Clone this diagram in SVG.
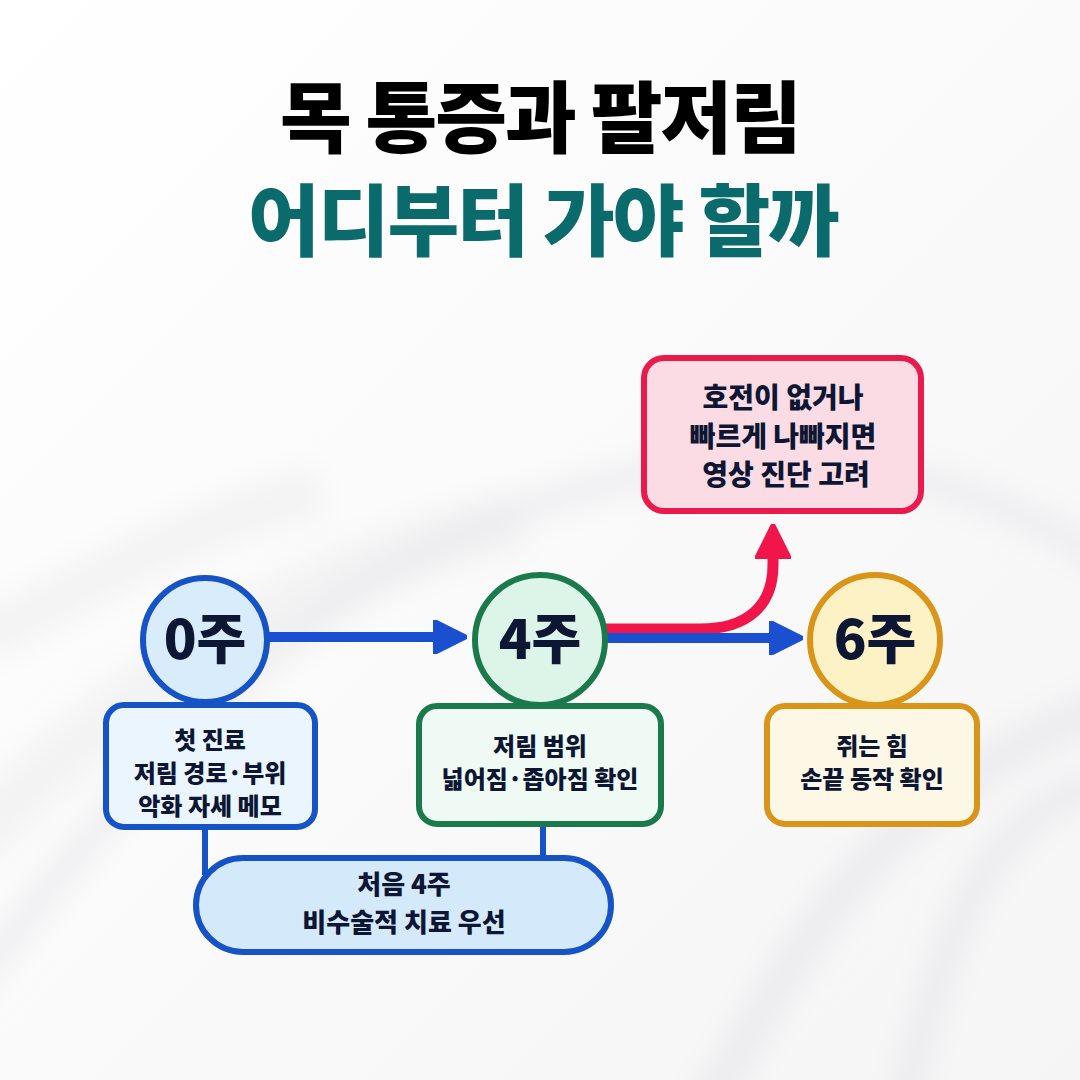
<svg xmlns="http://www.w3.org/2000/svg" width="1080" height="1080" viewBox="0 0 1080 1080">
<defs>
<linearGradient id="bg" x1="0" y1="0" x2="1" y2="1">
<stop offset="0" stop-color="#ffffff"/><stop offset="1" stop-color="#f5f5f6"/>
</linearGradient>
<filter id="soft" x="-20%" y="-20%" width="140%" height="140%"><feGaussianBlur stdDeviation="14"/></filter>
<marker id="ab" viewBox="0 0 10 10" refX="2" refY="5" markerWidth="3.4" markerHeight="3.4" orient="auto" markerUnits="strokeWidth">
<path d="M0,0 L10,5 L0,10 Z" fill="#1a4fd0" stroke="#1a4fd0" stroke-linejoin="round"/>
</marker>
<marker id="ar" viewBox="0 0 10 10" refX="2" refY="5" markerWidth="3.2" markerHeight="3.2" orient="auto" markerUnits="strokeWidth">
<path d="M0,0 L10,5 L0,10 Z" fill="#f0164a" stroke="#f0164a" stroke-linejoin="round"/>
</marker>
</defs>
<style>
.t{font-family:"Noto Sans CJK KR","Noto Sans",sans-serif;text-anchor:middle}
.h1{font-size:78px;font-weight:900;fill:#000}
.h2{font-size:78px;font-weight:900;fill:#0b6b6c}
.wk{font-size:54px;font-weight:900;fill:#0d1633}
.bx{font-size:24px;font-weight:900;fill:#0d1633}
.rb{font-size:28px;font-weight:900;fill:#0d1633}
.pl{font-size:26px;font-weight:900;fill:#0d1633}
.blue{stroke:#1553c7;stroke-width:6}
</style>
<rect width="1080" height="1080" fill="url(#bg)"/>
<g id="background" fill="none" filter="url(#soft)">
<path d="M-40,1000 C150,760 300,560 620,480 C820,430 980,480 1120,570" stroke="#e6e6e9" stroke-width="30" opacity="0.55"/>
<path d="M-40,850 C120,700 260,580 520,520" stroke="#e9e9ec" stroke-width="60" opacity="0.45"/>
<path d="M700,1120 C800,950 860,800 1120,700" stroke="#e4e4e7" stroke-width="40" opacity="0.55"/>
<path d="M900,1120 C950,900 1000,800 1120,780" stroke="#e2e2e5" stroke-width="30" opacity="0.5"/>
<path d="M-20,640 C80,590 170,530 320,490" stroke="#ececee" stroke-width="50" opacity="0.5"/>
</g>
<g id="title">
<text class="t h1" x="540" y="147" letter-spacing="-2">목 통증과 팔저림</text>
<text class="t h2" x="543" y="250" letter-spacing="-2">어디부터 가야 할까</text>
</g>
<g id="connectors" fill="none">
<line x1="205" y1="826" x2="205" y2="875" class="blue"/>
<line x1="543" y1="824" x2="543" y2="860" class="blue"/>
<line x1="268" y1="637" x2="440" y2="637" stroke="#1a4fd0" stroke-width="10" marker-end="url(#ab)"/>
<path d="M606,629 L700,629 C748,629 773,605 773,565 L773,552" stroke="#f0164a" stroke-width="11" marker-end="url(#ar)"/>
<line x1="604" y1="638" x2="776" y2="638" stroke="#1a4fd0" stroke-width="10" marker-end="url(#ab)"/>
</g>
<g id="node-0w">
<circle cx="205" cy="640" r="62" fill="#d8ecfb" class="blue"/>
<text class="t wk" x="205" y="659">0주</text>
</g>
<g id="box-0w">
<rect x="106" y="705" width="209" height="122" rx="18" fill="#ebf5fd" class="blue"/>
<text class="t bx" x="210" y="749">첫 진료</text>
<text class="t bx" x="210" y="782">저림 경로·부위</text>
<text class="t bx" x="210" y="815">악화 자세 메모</text>
</g>
<g id="node-4w">
<circle cx="540" cy="640" r="65" fill="#ddf5e9" stroke="#1b7a4c" stroke-width="6"/>
<text class="t wk" x="540" y="659">4주</text>
</g>
<g id="box-4w">
<rect x="419" y="706" width="242" height="118" rx="18" fill="#eefaf3" stroke="#1b7a4c" stroke-width="6"/>
<text class="t bx" x="540" y="755">저림 범위</text>
<text class="t bx" x="540" y="788">넓어짐·좁아짐 확인</text>
</g>
<g id="node-6w">
<circle cx="875" cy="640" r="65" fill="#fdf2c6" stroke="#d9951a" stroke-width="6"/>
<text class="t wk" x="875" y="659">6주</text>
</g>
<g id="box-6w">
<rect x="767" y="706" width="210" height="118" rx="18" fill="#fdf8e6" stroke="#d9951a" stroke-width="6"/>
<text class="t bx" x="872" y="755">쥐는 힘</text>
<text class="t bx" x="872" y="788">손끝 동작 확인</text>
</g>
<g id="node-imaging">
<rect x="644" y="358" width="277" height="153" rx="20" fill="#fcdce4" stroke="#ea1a4c" stroke-width="6"/>
<text class="t rb" x="783" y="408">호전이 없거나</text>
<text class="t rb" x="783" y="447">빠르게 나빠지면</text>
<text class="t rb" x="786" y="485">영상 진단 고려</text>
</g>
<g id="node-first4w">
<rect x="196" y="858" width="415" height="94" rx="47" fill="#d4eafb" class="blue"/>
<text class="t pl" x="404" y="894">처음 4주</text>
<text class="t pl" x="404" y="932">비수술적 치료 우선</text>
</g>
</svg>
